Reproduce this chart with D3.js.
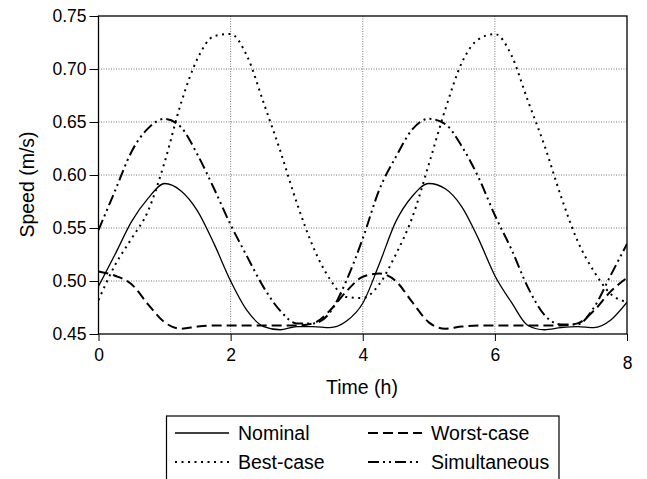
<!DOCTYPE html>
<html><head><meta charset="utf-8">
<script src="https://cdn.jsdelivr.net/npm/d3@7/dist/d3.min.js"></script>
<style>
body{margin:0;background:#fff;}
svg{display:block;font-family:"Liberation Sans",Arial,sans-serif;}
</style></head>
<body><svg id="c" width="647" height="479"></svg>
<script>
const times = [0,0.25,0.5,0.75,1,1.25,1.5,1.75,2,2.25,2.5,2.75,3,3.25,3.5,3.75,4,4.25,4.5,4.75,5,5.25,5.5,5.75,6,6.25,6.5,6.75,7,7.25,7.5,7.75,8];
const nominal = [0.495,0.525,0.556,0.578,0.592,0.585,0.566,0.535,0.500,0.472,0.457,0.454,0.457,0.457,0.456,0.462,0.479,0.516,0.556,0.580,0.592,0.587,0.570,0.540,0.505,0.480,0.458,0.454,0.456,0.457,0.456,0.463,0.480];
const worstCase = [0.509,0.505,0.497,0.478,0.461,0.455,0.457,0.458,0.458,0.458,0.458,0.458,0.458,0.460,0.472,0.490,0.504,0.507,0.500,0.480,0.461,0.455,0.457,0.458,0.458,0.458,0.458,0.458,0.458,0.460,0.472,0.490,0.503];
const bestCase = [0.482,0.515,0.540,0.566,0.612,0.668,0.710,0.731,0.733,0.712,0.668,0.623,0.574,0.532,0.502,0.485,0.484,0.497,0.525,0.560,0.610,0.662,0.706,0.728,0.733,0.713,0.670,0.628,0.580,0.538,0.509,0.488,0.480];
const simultaneous = [0.548,0.585,0.622,0.644,0.653,0.645,0.619,0.587,0.553,0.523,0.494,0.472,0.460,0.460,0.470,0.500,0.540,0.586,0.617,0.643,0.653,0.648,0.627,0.598,0.562,0.530,0.494,0.468,0.459,0.459,0.475,0.505,0.535];
const seriesNames = ["Nominal","Worst-case","Best-case","Simultaneous"];
const xTicks = [0,2,4,6,8];
const yTicks = [0.45,0.50,0.55,0.60,0.65,0.70,0.75];

const dashes = {"Nominal":null,"Worst-case":"10,5","Best-case":"2,4.5","Simultaneous":"11,4,2,4,2,4"};
const widths = {"Nominal":1.3,"Worst-case":2,"Best-case":2,"Simultaneous":2};
const seriesVals = {"Nominal":nominal,"Worst-case":worstCase,"Best-case":bestCase,"Simultaneous":simultaneous};

const svg = d3.select("#c");
const L=98.5,R=627,T=16,B=334;
const x = d3.scaleLinear().domain([0,8]).range([L,R]);
const y = d3.scaleLinear().domain([0.45,0.75]).range([B,T]);

// grid
const g = svg.append("g");
g.selectAll(".gy").data(yTicks.filter(v=>v>0.451&&v<0.749)).enter().append("line")
  .attr("x1",L).attr("x2",R).attr("y1",d=>y(d)).attr("y2",d=>y(d))
  .attr("stroke","#777").attr("stroke-width",1).attr("stroke-dasharray","1,1.5");
g.selectAll(".gx").data(xTicks.filter(v=>v>0&&v<8)).enter().append("line")
  .attr("y1",T).attr("y2",B).attr("x1",d=>x(d)).attr("x2",d=>x(d))
  .attr("stroke","#777").attr("stroke-width",1).attr("stroke-dasharray","1,1.5");

// axes
const yAxis = d3.axisLeft(y).tickValues(yTicks).tickFormat(d3.format(".2f")).tickSize(9).tickPadding(3);
const ya = svg.append("g").attr("transform",`translate(${L},0)`).call(yAxis);
ya.select(".domain").remove();
ya.selectAll("text").attr("font-size",17.5).attr("font-family","Liberation Sans, Arial, sans-serif").attr("fill","#000");
ya.selectAll("line").attr("stroke","#000");

const xAxis = d3.axisBottom(x).tickValues(xTicks).tickFormat(d3.format("d")).tickSize(7).tickPadding(8);
const xa = svg.append("g").attr("transform",`translate(0,${B})`).call(xAxis);
xa.select(".domain").remove();
xa.selectAll("text").attr("font-size",17.5).attr("font-family","Liberation Sans, Arial, sans-serif").attr("fill","#000");
xa.selectAll("line").attr("stroke","#000");
xa.selectAll(".tick").filter(d=>d===8).select("text").attr("dy","1.15em");

// frame
svg.append("rect").attr("x",L).attr("y",T).attr("width",R-L).attr("height",B-T)
  .attr("fill","none").attr("stroke","#000").attr("stroke-width",1.3);

// clip
svg.append("clipPath").attr("id","clip").append("rect").attr("x",L).attr("y",T-2).attr("width",R-L).attr("height",B-T+2);

const line = d3.line().x((d,i)=>x(times[i])).y(d=>y(d)).curve(d3.curveMonotoneX);
const lg = svg.append("g").attr("clip-path","url(#clip)");
["Nominal","Best-case","Worst-case","Simultaneous"].forEach(n=>{
  lg.append("path").datum(seriesVals[n]).attr("d",line)
    .attr("fill","none").attr("stroke","#000").attr("stroke-width",widths[n])
    .attr("stroke-dasharray",dashes[n]);
});

// titles
svg.append("text").attr("x",362).attr("y",394).attr("text-anchor","middle")
  .attr("font-size",19.5).text("Time (h)");
svg.append("text").attr("transform","translate(34,184.5) rotate(-90)").attr("text-anchor","middle")
  .attr("font-size",19.5).text("Speed (m/s)");

// legend
svg.append("rect").attr("x",166.5).attr("y",416).attr("width",392.5).attr("height",70)
  .attr("fill","none").attr("stroke","#000").attr("stroke-width",1.2);
const legPos = {"Nominal":[175,433],"Worst-case":[368,433],"Best-case":[175,462],"Simultaneous":[368,462]};
seriesNames.forEach(n=>{
  const [lx,ly]=legPos[n];
  svg.append("line").attr("x1",lx).attr("x2",lx+54).attr("y1",ly).attr("y2",ly)
    .attr("stroke","#000").attr("stroke-width",widths[n]).attr("stroke-dasharray",dashes[n]);
  svg.append("text").attr("x",lx+63).attr("y",ly+7).attr("font-size",19.5).text(n);
});
</script></body></html>
